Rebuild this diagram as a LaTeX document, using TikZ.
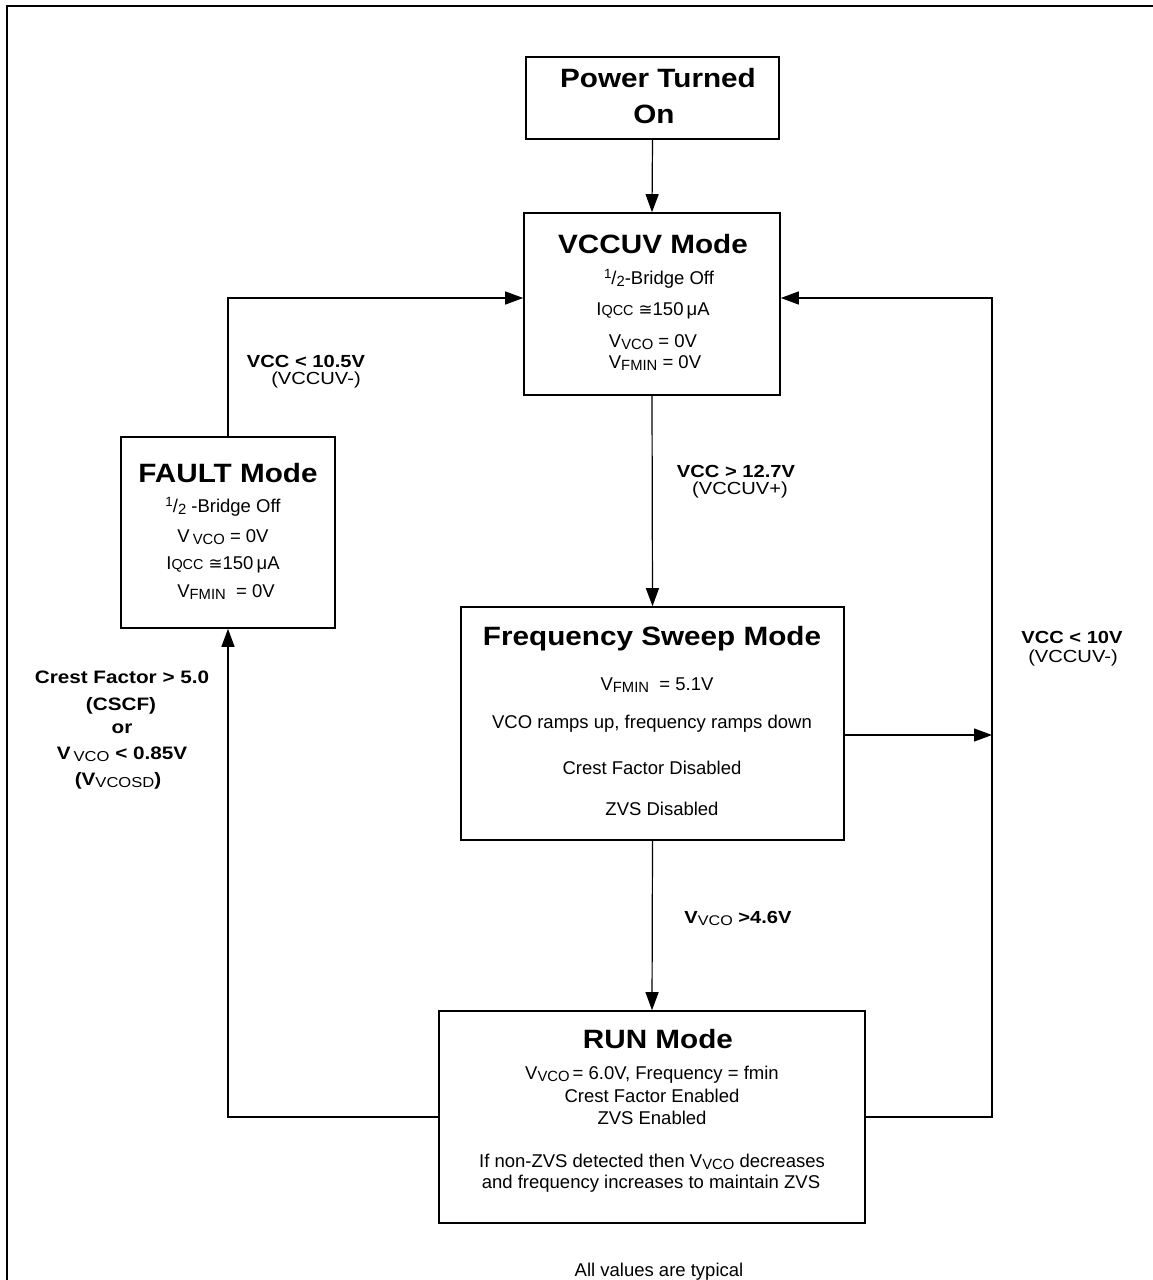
\documentclass[tikz,border=0pt]{standalone}
\usepackage{graphicx}
\usepackage{fontspec}
\setmainfont{Liberation Sans}
\newfontfamily\hb{Liberation Sans}[FakeStretch=1.12]
\newfontfamily\hl{Liberation Sans}[FakeStretch=1.15]
\newfontfamily\djvu{DejaVu Sans}
\usetikzlibrary{arrows.meta}
\newcommand\lsub[1]{\raisebox{-0.3ex}{\scalebox{0.8}{#1}}}
\newcommand\lsup[1]{\raisebox{0.6ex}{\scalebox{0.72}{#1}}}
\newcommand\qsub[1]{\scalebox{0.78}{#1}}
\newcommand\apx{{\djvu\scalebox{0.9}{≅}}}
\begin{document}
\begin{tikzpicture}[x=1pt,y=-1pt,
  stbox/.style={draw,line width=1.6pt,inner sep=0pt},
  ttl/.style={font=\hb\bfseries\fontsize{26.5}{29}\selectfont,anchor=base,inner sep=0pt},
  bdy/.style={font=\fontsize{18.5}{21}\selectfont,anchor=base,inner sep=0pt},
  lab/.style={font=\hl\bfseries\fontsize{17.5}{20}\selectfont,anchor=base,inner sep=0pt},
  labr/.style={font=\hl\fontsize{17.5}{20}\selectfont,anchor=base,inner sep=0pt},
  clab/.style={font=\hl\bfseries\fontsize{18}{21}\selectfont,anchor=base,inner sep=0pt},
  conn/.style={line width=1.2pt},
  arr/.style={conn,-{Triangle[length=18pt,width=13pt]}}]
\useasboundingbox (0,0) rectangle (1153,1280);
% frame
\draw[line width=2pt] (7,1290) -- (7,6) -- (1160,6);

% boxes
\node[stbox,minimum width=253pt,minimum height=82pt] (pwr) at (652.5,98) {};
\node[stbox,minimum width=256pt,minimum height=182pt] (vcc) at (652,304) {};
\node[stbox,minimum width=214pt,minimum height=191pt] (flt) at (228,532.5) {};
\node[stbox,minimum width=383pt,minimum height=233pt] (frq) at (652.5,723.5) {};
\node[stbox,minimum width=426pt,minimum height=212pt] (run) at (652,1117) {};

% box texts
\node[ttl] (pwr1) at (658,87) {Power Turned};
\node[ttl] (pwr2) at (654,123) {On};

\node[ttl] (vcc1) at (653,253) {VCCUV Mode};
\node[bdy] (vcc2) at (659,284) {\lsup{1}/\lsub{2}-Bridge Off};
\node[bdy] (vcc3) at (653,315) {I\qsub{QCC} \apx150\,μA};
\node[bdy] (vcc4) at (653,347) {V\lsub{VCO} = 0V};
\node[bdy] (vcc5) at (655,368) {V\lsub{FMIN} = 0V};

\node[ttl] (flt1) at (228,482) {FAULT Mode};
\node[bdy] (flt2) at (223,512) {\lsup{1}/\lsub{2} -Bridge Off};
\node[bdy] (flt3) at (223,542) {V\,\lsub{VCO} = 0V};
\node[bdy] (flt4) at (223,569) {I\qsub{QCC} \apx150\,μA};
\node[bdy] (flt5) at (226,597) {V\lsub{FMIN} \ = 0V};

\node[ttl] (frq1) at (652,645) {Frequency Sweep Mode};
\node[bdy] (frq2) at (657,690) {V\lsub{FMIN} \ = 5.1V};
\node[bdy] (frq3) at (652,728) {VCO ramps up, frequency ramps down};
\node[bdy] (frq4) at (652,774) {Crest Factor Disabled};
\node[bdy] (frq5) at (662,815) {ZVS Disabled};

\node[ttl] (run1) at (658,1048) {RUN Mode};
\node[bdy] (run2) at (652,1079) {V\lsub{VCO}\,= 6.0V, Frequency = fmin};
\node[bdy] (run3) at (652,1102) {Crest Factor Enabled};
\node[bdy] (run4) at (652,1124) {ZVS Enabled};
\node[bdy] (run5) at (652,1167) {If non-ZVS detected then V\lsub{VCO} decreases};
\node[bdy] (run6) at (651,1188) {and frequency increases to maintain ZVS};

% connectors
\coordinate (rc) at (992,298);
\coordinate (fr) at (992,735);
\draw[arr] (pwr.south) -- (vcc.north);
\draw[arr] (vcc.south) -- (frq.north);
\draw[arr] (frq.south) -- (run.north);
\draw[arr] (flt.north) |- ([yshift=6pt]vcc.west);
\draw[arr] (run.west) -| (flt.south);
\draw[arr] (run.east) -| (rc) -- ([yshift=6pt]vcc.east);
\draw[arr] ([yshift=-11.5pt]frq.east) -- (fr);

% connector labels
\node[lab] (l1a) at (306,367) {VCC < 10.5V};
\node[labr] (l1b) at (316,384) {(VCCUV-)};
\node[lab] (l2a) at (736,477) {VCC > 12.7V};
\node[labr] (l2b) at (740,494) {(VCCUV+)};
\node[lab] (l3a) at (1072,643) {VCC < 10V};
\node[labr] (l3b) at (1073,662) {(VCCUV-)};
\node[lab] (l4) at (738,923) {V\lsub{\mdseries VCO} >4.6V};
\node[clab] (l5a) at (122,683) {Crest Factor > 5.0};
\node[clab] (l5b) at (121,710) {(CSCF)};
\node[clab] (l5c) at (122,733) {or};
\node[clab] (l5d) at (122,759) {V\,\lsub{\mdseries VCO} < 0.85V};
\node[clab] (l5e) at (118,785) {(V\lsub{\mdseries VCOSD})};

\node[bdy] (note) at (659,1276) {All values are typical};
\end{tikzpicture}
\end{document}
